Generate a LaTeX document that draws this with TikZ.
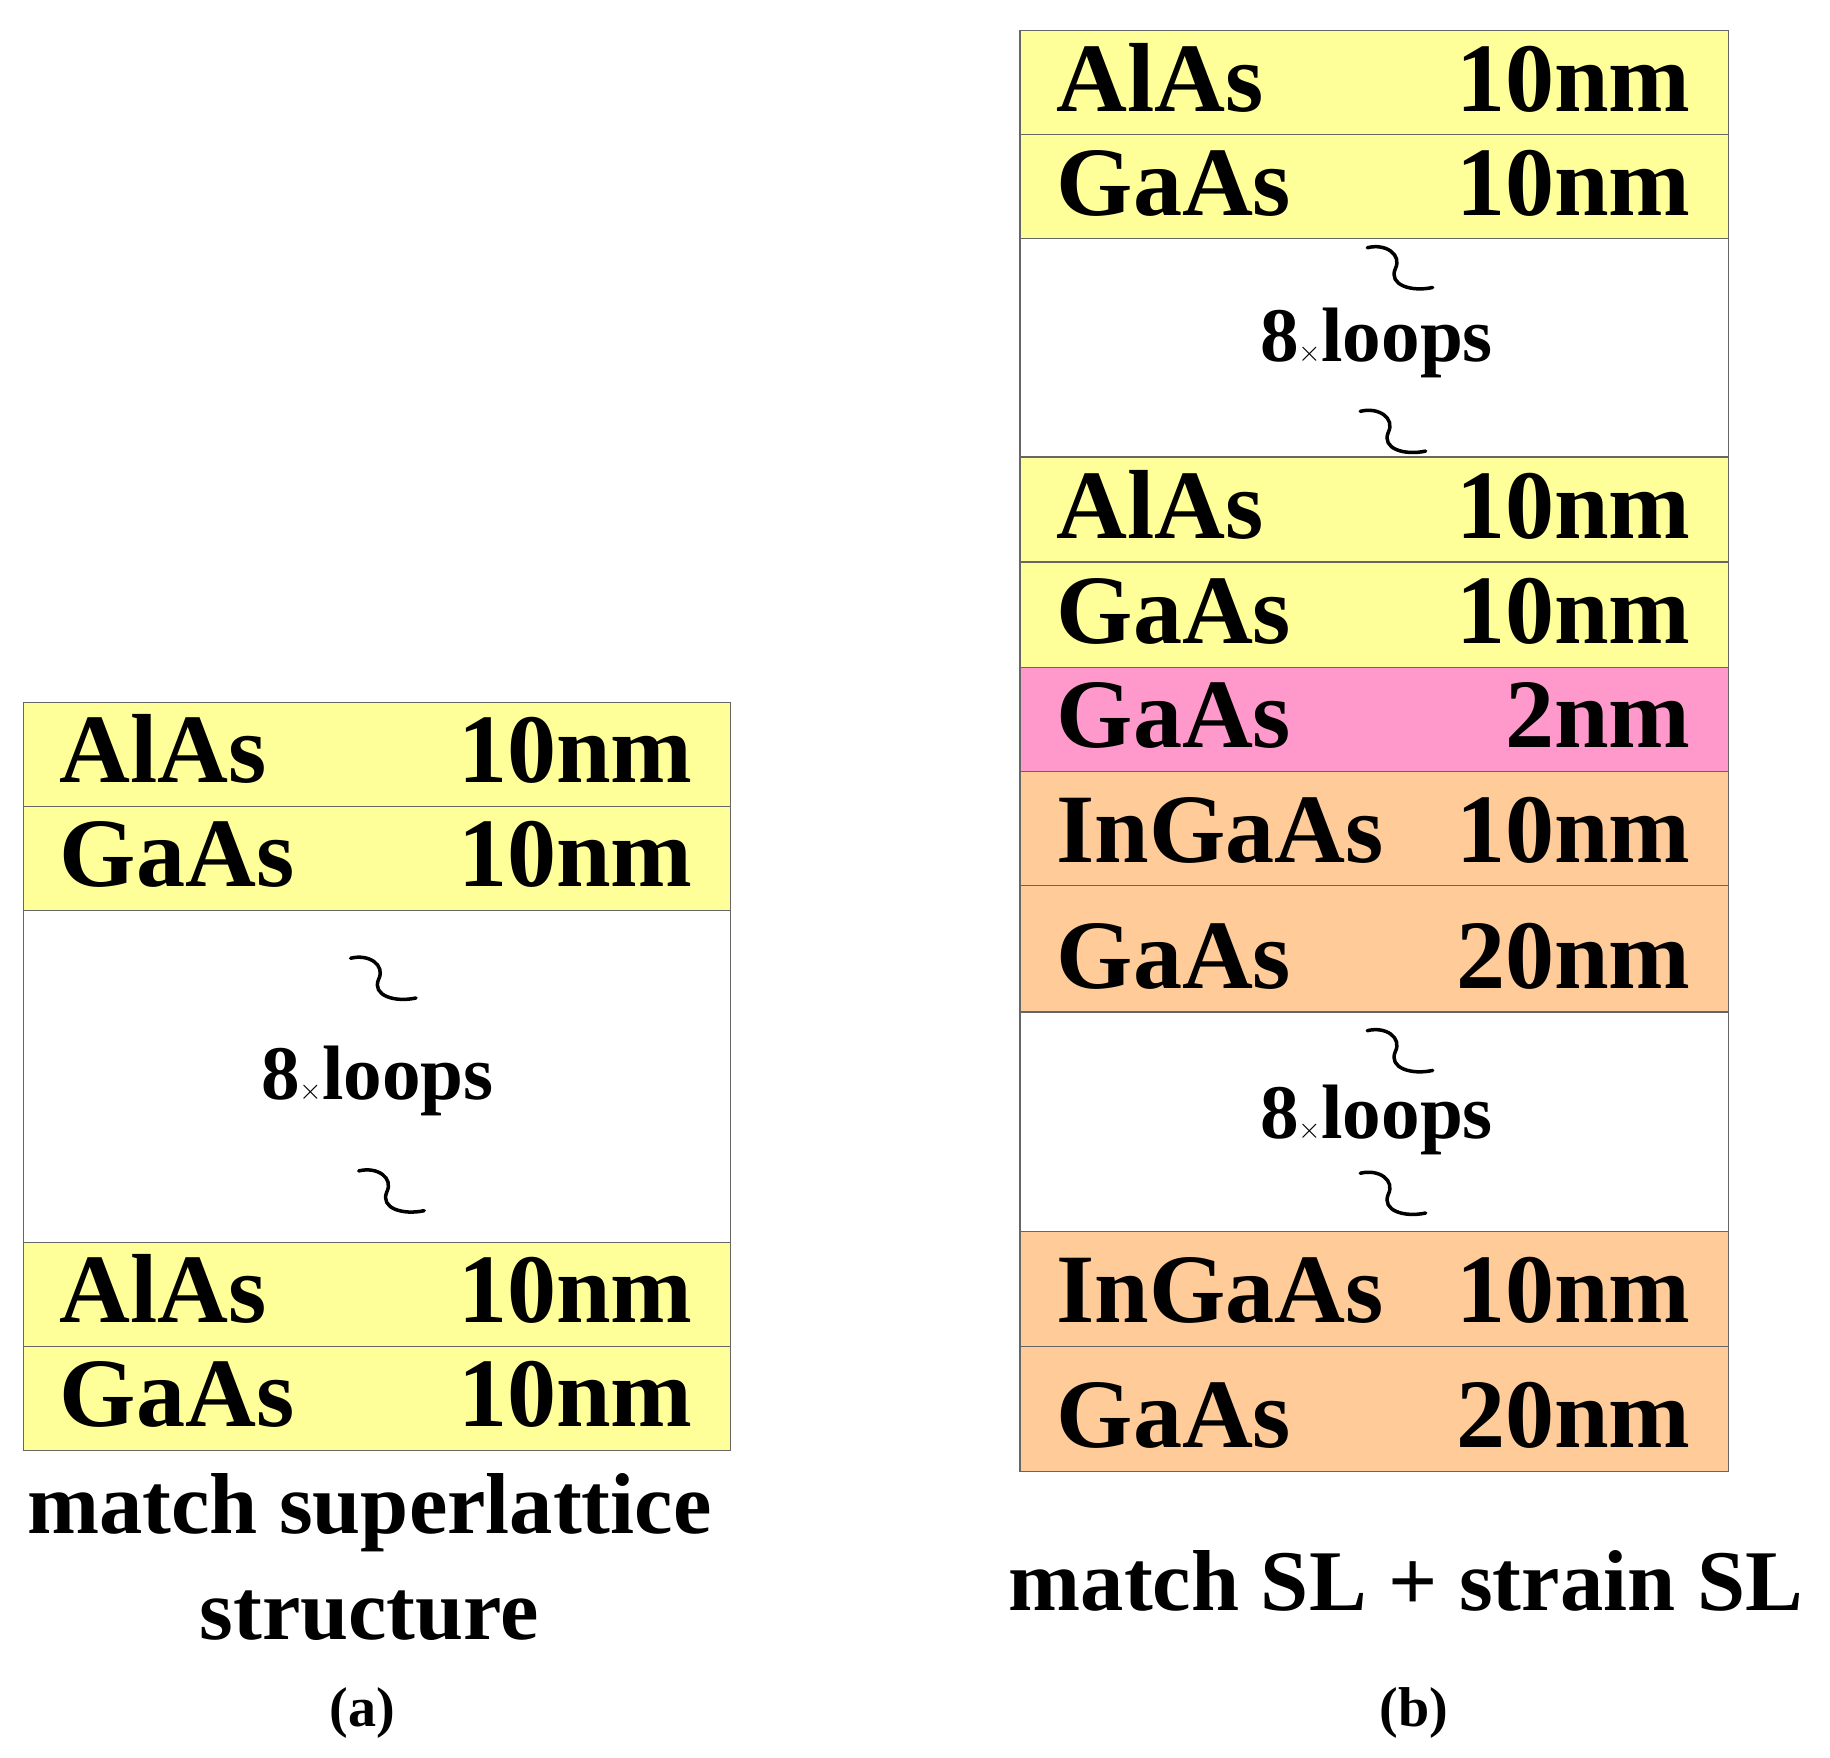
\documentclass[tikz,border=0pt]{standalone}
\usepackage{fontspec}
\setmainfont{Liberation Serif}
\definecolor{ylw}{HTML}{FFFF99}
\definecolor{pnk}{HTML}{FF99CC}
\definecolor{org}{HTML}{FFCC99}
\tikzset{
 layer/.style={draw=black!60,line width=1.2pt},
 lab/.style={font=\fontsize{84}{90}\bfseries\selectfont,inner sep=0,anchor=base west},
 num/.style={font=\fontsize{84}{90}\bfseries\selectfont,inner sep=0,anchor=base east},
 loops/.style={font=\fontsize{66}{70}\bfseries\selectfont,inner sep=0,anchor=base},
 captext/.style={font=\fontsize{74}{80}\bfseries\selectfont,inner sep=0,anchor=base},
 sub/.style={font=\fontsize{48}{50}\bfseries\selectfont,inner sep=0,anchor=base},
 squig/.style={line width=3pt,line cap=round}
}
\newcommand{\layer}[7]{% x1,x2,y1,y2,color,label,num
 \fill[#5] (#1,#3) rectangle (#2,#4);
 \draw[layer] (#1,#3) rectangle (#2,#4);
 \node[lab] at ({#1+31},{#4-20}) {#6};
 \node[num] at ({#2-32},{#4-20}) {#7};
}
\newcommand{\squiggle}[2]{%
 \draw[squig] (#1-28,#2-18) .. controls (#1-12,#2-22) and (#1+2,#2-12) .. (#1-4,#2) .. controls (#1-10,#2+14) and (#1+10,#2+20) .. (#1+28,#2+16);
}
\begin{document}
\begin{tikzpicture}[x=1pt,y=-1pt]
\useasboundingbox (0,0) rectangle (1566,1504);
% (a)
\layer{20}{625}{601}{690}{ylw}{AlAs}{10nm}
\layer{20}{625}{690}{779}{ylw}{GaAs}{10nm}
\draw[layer] (20,779) rectangle (625,1063);
\layer{20}{625}{1063}{1152}{ylw}{AlAs}{10nm}
\layer{20}{625}{1152}{1241}{ylw}{GaAs}{10nm}
\node[loops] (la) at (323,941) {8$\times$loops};
\squiggle{328}{838}
\squiggle{335}{1020}
\node[captext] (ca1) at (316,1312) {match superlattice};
\node[captext] (ca2) at (316,1403) {structure};
\node[sub] (ca3) at (310,1477) {(a)};
% (b)
\layer{873}{1479}{26}{115}{ylw}{AlAs}{10nm}
\layer{873}{1479}{115}{204}{ylw}{GaAs}{10nm}
\draw[layer] (873,204) rectangle (1479,391);
\layer{873}{1479}{391}{481}{ylw}{AlAs}{10nm}
\layer{873}{1479}{481}{571}{ylw}{GaAs}{10nm}
\layer{873}{1479}{571}{660}{pnk}{GaAs}{2nm}
\layer{873}{1479}{660}{758}{org}{InGaAs}{10nm}
\layer{873}{1479}{758}{866}{org}{GaAs}{20nm}
\draw[layer] (873,866) rectangle (1479,1054);
\layer{873}{1479}{1054}{1152}{org}{InGaAs}{10nm}
\layer{873}{1479}{1152}{1259}{org}{GaAs}{20nm}
\node[loops] (lb1) at (1178,309) {8$\times$loops};
\node[loops] (lb2) at (1178,974) {8$\times$loops};
\squiggle{1198}{230}
\squiggle{1192}{370}
\squiggle{1198}{900}
\squiggle{1192}{1022}
\node[captext] (cb1) at (1203,1378) {match SL + strain SL};
\node[sub] (cb2) at (1210,1477) {(b)};
\end{tikzpicture}
\end{document}
